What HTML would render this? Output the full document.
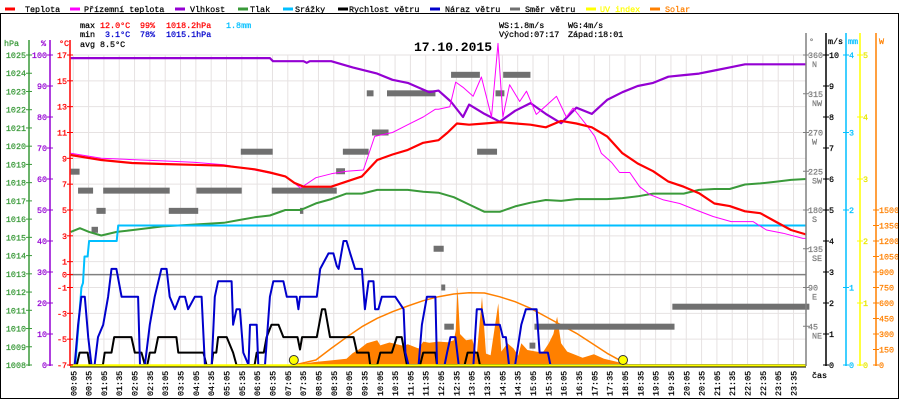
<!DOCTYPE html>
<html><head><meta charset="utf-8"><title>17.10.2015</title>
<style>
html,body{margin:0;padding:0;background:#fff;}
svg{display:block;}
text{font-family:"Liberation Mono",monospace;font-size:8.4px;stroke-width:0.25px;paint-order:stroke;}
</style></head>
<body>
<svg id="chart" width="900" height="400" viewBox="0 0 900 400" xmlns="http://www.w3.org/2000/svg">
<rect x="0" y="0" width="900" height="400" fill="#fff"/>
<g id="grid"></g>
<g id="marks"></g>
<g id="axes"></g>
<g id="legend"></g>
<g id="stats">
 <text x="80" y="28" stroke="#000">max</text>
 <text x="100" y="28" fill="#ff0000" stroke="#ff0000">12.0°C</text>
 <text x="140" y="28" fill="#ff0000" stroke="#ff0000">99%</text>
 <text x="166" y="28" fill="#ff0000" stroke="#ff0000">1018.2hPa</text>
 <text x="226" y="28" fill="#00bfff" stroke="#00bfff">1.8mm</text>
 <text x="80" y="37" stroke="#000">min</text>
 <text x="105" y="37" fill="#0000cc" stroke="#0000cc">3.1°C</text>
 <text x="140" y="37" fill="#0000cc" stroke="#0000cc">78%</text>
 <text x="166" y="37" fill="#0000cc" stroke="#0000cc">1015.1hPa</text>
 <text x="80" y="47" stroke="#000">avg</text>
 <text x="100" y="47" stroke="#000">8.5°C</text>
 <text x="499" y="28" stroke="#000">WS:1.8m/s</text>
 <text x="568" y="28" stroke="#000">WG:4m/s</text>
 <text x="499" y="37" stroke="#000">Východ:07:17</text>
 <text x="568" y="37" stroke="#000">Západ:18:01</text>
 <text x="414" y="51" style="font-size:13px;font-weight:bold">17.10.2015</text>
</g>
<rect x="0.5" y="13.5" width="898" height="385" fill="none" stroke="#000" stroke-width="1"/>
</svg>
<script>
const timeLabels = ["00:05","00:35","01:05","01:35","02:05","02:35","03:05","03:35","04:05","04:35","05:05","05:35","06:05","06:35","07:05","07:35","08:05","08:35","09:05","09:35","10:05","10:35","11:05","11:35","12:05","12:35","13:05","13:35","14:05","14:35","15:05","15:35","16:05","16:35","17:05","17:35","18:05","18:35","19:05","19:35","20:05","20:35","21:05","21:35","22:05","22:35","23:05","23:35"];
const tempT = [0,1,2,3,4,5,6,6.5,7,7.3,7.6,8.5,9,9.5,10,10.5,11,11.5,12,12.3,12.6,13,13.5,14,15,15.5,16,16.5,17,17.5,18,18.5,19,19.5,20,20.5,21,21.5,22,22.5,23,23.5,24];
const tempV = [9.26,8.87,8.64,8.56,8.5,8.43,8.15,7.9,7.6,7.1,6.8,6.8,7.2,7.6,8.87,9.3,9.65,10.2,10.4,11.0,11.7,11.6,11.7,11.8,11.6,11.4,11.9,11.7,11.4,10.7,9.4,8.6,8.0,7.2,6.8,6.3,5.5,5.3,4.9,4.75,4.1,3.45,3.1];
const feelT = [0,1,2,3,4,5,6,7,7.5,8,8.5,9,9.55,9.92,10.5,11,11.5,11.9,12.0,12.37,12.56,12.8,13.13,13.4,13.73,13.94,14.1,14.32,14.65,14.87,15.19,15.47,15.85,16.17,16.39,16.82,17.1,17.31,17.64,17.91,18.24,18.56,18.89,19.32,19.87,20.4,20.96,21.55,22.26,22.7,23.24,23.89,24];
const feelV = [9.4,9.0,8.9,8.8,8.7,8.5,8.1,7.6,6.7,7.5,7.8,8.0,8.1,10.7,11.0,11.6,12.2,12.8,12.8,13.0,14.9,14.5,13.8,15.3,12.2,17.9,12.2,14.7,13.4,14.2,12.4,13.0,13.8,12.2,12.9,11.6,10.7,9.4,8.7,7.9,7.9,6.8,6.2,5.8,5.5,5.0,4.5,4.1,4.1,3.45,3.2,2.8,2.8];
const humT = [0,6.5,6.6,7.6,7.7,7.8,8.5,9.2,10,10.5,11,11.7,12,12.4,12.8,13,13.5,14,14.5,15,15.5,16,16.5,17,17.5,18,18.5,19,19.5,20,20.5,21,21.5,22,23,24];
const humV = [99,99,98,98,97.5,98,98,96,94,92,91,88,88.5,85,80,84,81,78.5,82,84.5,81,78,83,81,85.5,88,90,91,93,93.5,94,95,96,97,97,97];
const presT = [0,0.3,0.6,1,1.5,2,3,4,5,5.5,6,6.5,7,7.5,8,8.5,9,9.5,10,10.5,11,11.5,12,12.5,13,13.5,14,14.5,15,15.5,16,16.5,17,17.5,18,18.5,19,19.5,20,20.5,21,21.5,22,22.5,23,23.5,24];
const presV = [1015.3,1015.5,1015.3,1015.1,1015.3,1015.4,1015.6,1015.7,1015.8,1015.95,1016.1,1016.2,1016.5,1016.5,1016.86,1017.1,1017.4,1017.4,1017.6,1017.6,1017.6,1017.5,1017.45,1017.2,1016.8,1016.4,1016.4,1016.7,1016.9,1017.05,1017.0,1017.1,1017.1,1017.1,1017.15,1017.25,1017.4,1017.4,1017.4,1017.6,1017.65,1017.65,1017.9,1017.96,1018.05,1018.15,1018.2];
const rainT = [0.15,0.25,0.35,0.4,0.45,0.55,0.6,0.7,1.5,1.55,24];
const rainV = [0,0.5,1.0,1.06,1.4,1.4,1.6,1.6,1.6,1.8,1.8];
const windT = [0,0.2,0.29,0.55,0.62,1.05,1.11,1.33,1.42,1.98,2.09,2.31,2.42,2.5,2.58,2.75,2.85,3.45,3.51,4.33,4.43,4.6,4.65,4.75,4.81,5.09,5.3,5.41,6.0,6.07,6.3,6.39,6.55,6.78,6.94,7.05,7.4,7.48,7.55,8.03,8.2,8.3,8.46,9.23,9.34,9.72,9.77,10.0,10.1,10.48,10.64,10.8,10.97,11.4,11.5,11.9,11.95,12.85,12.95,13.27,13.35,24];
const windV = [0,0,0.4,0.4,0,0,0.4,0.4,0.9,0.9,0.4,0.4,0,0,0.4,0.4,0.9,0.9,0.4,0.4,0,0,0.4,0.4,0.9,0.9,0.4,0,0,0.4,0.4,0.9,1.3,1.3,0.9,0.9,0.9,0.5,0.9,0.9,1.8,1.8,0.9,0.9,0.4,0.4,0,0,0.4,0.4,0.9,0.9,0,0,0.4,0.4,0,0,0.4,0.4,0,0];
const gustT = [0,0.13,0.24,0.35,0.46,0.57,0.68,0.78,0.89,1.06,1.22,1.33,1.49,1.66,2.2,2.26,2.42,2.58,2.74,2.96,3.13,3.23,3.4,3.56,3.73,3.83,4.05,4.27,4.38,4.6,4.7,4.81,5.25,5.3,5.41,5.52,5.63,5.8,5.85,6.07,6.12,6.34,6.5,6.61,6.94,7.05,7.37,7.43,7.48,8.03,8.14,8.41,8.57,8.68,8.74,8.9,9.0,9.12,9.28,9.5,9.6,9.72,9.88,9.93,10.04,10.15,10.59,10.86,10.92,11.02,11.35,11.46,11.62,11.9,11.95,12.2,12.28,12.39,12.55,12.66,13.14,13.25,13.41,13.5,14.0,14.1,14.2,14.3,14.5,14.7,14.85,15.2,15.3,15.57,15.65,24];
const gustV = [0,0,1.3,2.2,2.2,0.9,0,0,0.9,1.3,2.2,3.1,3.1,2.2,2.2,0,0,1.3,2.2,3.1,3.1,2.2,1.8,2.2,2.2,1.8,2.2,2.2,0,0,2.2,2.7,2.7,1.3,1.8,1.8,0.4,0,1.3,1.3,0,0,2.2,2.7,2.7,2.2,2.2,1.8,2.2,2.2,3.1,3.6,3.6,3.2,3.1,4.0,4.0,3.6,3.1,3.1,1.8,2.7,2.7,1.8,1.8,2.2,2.2,1.8,0.4,0,0,1.3,2.2,2.2,0,0,0.4,0.9,0.9,0,0,1.8,1.8,1.3,1.3,0.9,0.9,0,0,1.3,1.8,1.8,0.4,0.4,0,0];
const dirStart = [0,0.24,0.68,0.84,1.06,3.2,4.1,5.55,6.56,7.48,8.66,8.88,9.66,9.83,10.32,11.84,12.09,12.19,12.41,13.26,13.86,14.11,14.97,15.13,19.63];
const dirEnd   = [0.29,0.73,0.89,1.14,3.23,4.16,5.58,6.59,8.68,7.59,8.95,9.72,9.88,10.37,11.9,12.17,12.22,12.5,13.35,13.91,14.15,15.0,15.16,19.7,24.1];
const dirDeg   = [224.5,202.5,157,179,202.5,179,202.5,247.7,202.5,179,225,247.7,315.5,270,315.5,135,90,44.5,337,247.7,315.5,337,22.5,44.5,67.7];
const solarT = [7.3,7.6,8,8.5,9,9.2,9.4,9.66,10,10.1,10.4,10.86,11.0,11.35,11.5,11.7,12.0,12.3,12.5,12.56,12.62,12.7,12.9,13.1,13.25,13.42,13.55,13.7,13.95,14.05,14.25,14.45,14.6,14.7,14.9,15.2,15.4,15.6,15.75,15.87,16.0,16.2,16.5,16.7,17.07,17.4,17.83,18.1];
const solarV = [0,15,30,45,60,115,150,210,240,190,218,185,200,160,226,215,226,220,240,330,758,300,240,250,100,661,110,95,597,130,210,160,90,210,145,130,120,210,300,468,210,130,95,70,104,60,30,0];
const clearT = [7.3,8,8.5,9,9.5,10,10.5,11,11.5,12,12.5,13,13.5,14,14.5,15,15.5,16,16.5,17,17.5,18,18.2];
const clearV = [0,48,161,268,371,452,516,571,622,661,687,700,697,660,613,549,468,387,307,210,113,32,0];
const sunEvents = [7.28,18.02];
const hpaTicks = [1008,1009,1010,1011,1012,1013,1014,1015,1016,1017,1018,1019,1020,1021,1022,1023,1024,1025];
const pctTicks = [0,10,20,30,40,50,60,70,80,90,100];
const degTicks = [-7,-5,-3,-1,0,1,3,5,7,9,11,13,15,17];
const dirTicks = [45,90,135,180,225,270,315,360];
const dirNames = ["NE","E","SE","S","SW","W","NW","N"];
const msTicks = [0,1,2,3,4,5,6,7,8,9,10];
const mmTicks = [0,1,2,3,4];
const uvTicks = [0,1,2,3,4,5];
const wTicks = [0,150,300,450,600,750,900,1050,1200,1350,1500];

const NS='http://www.w3.org/2000/svg';
const X = h => 70.7 + h*30.65;
const yT = c => 365 - (c+7)*12.917;
const yH = p => 365 - p*3.1;
const yP = v => 365 - (v-1008)*18.235;
const yD = d => 365 - d*310/360;
const yW = v => 365 - v*31;
const yR = v => 365 - v*77.5;
const yU = v => 365 - v*62;
const yS = v => 365 - v*0.10333;
function mk(tag, attrs, parent){const e=document.createElementNS(NS,tag);for(const k in attrs)e.setAttribute(k,attrs[k]);parent.appendChild(e);return e;}
const grid=document.getElementById('grid'), marks=document.getElementById('marks'), axes=document.getElementById('axes'), legend=document.getElementById('legend');

timeLabels.forEach((t,i)=>{
  const x=X(i*0.5+5/60);
  const g=mk('line',{x1:x,x2:x,y1:55,y2:365,stroke:'#e6e2e2','stroke-width':1},grid);
  
  
  const tx=mk('text',{x:0,y:0,stroke:'#000',transform:`translate(${x+3},396) rotate(-90)`},axes);
  tx.textContent=t;
  
  
});
degTicks.forEach(c=>{
  if(c===0) return;
  const y=yT(c);
  const g=mk('line',{x1:70,x2:806,y1:y,y2:y,stroke:'#e6e2e2','stroke-width':1},grid);
  
  
});
const zl=mk('line',{x1:70,x2:806,y1:yT(0),y2:yT(0),stroke:'#808080','stroke-width':1.5},grid);



function poly(T,V,yf,color,w,name){
  const pts=T.map((t,i)=>X(t).toFixed(1)+','+yf(V[i]).toFixed(1)).join(' ');
  const p=mk('polyline',{points:pts,fill:'none',stroke:color,'stroke-width':w,'stroke-linejoin':'round'},marks);
  
  
  return p;
}
{
  let pts=X(solarT[0]).toFixed(1)+','+yS(0);
  solarT.forEach((t,i)=>{pts+=' '+X(t).toFixed(1)+','+yS(solarV[i]).toFixed(1);});
  pts+=' '+X(solarT[solarT.length-1]).toFixed(1)+','+yS(0);
  const s=mk('polygon',{points:pts,fill:'#ff8000',stroke:'none'},marks);
  
  
}
poly(clearT,clearV,yS,'#ff8000',1.5,'solar-clear-sky-line');
dirDeg.forEach((d,i)=>{
  const r=mk('rect',{x:X(dirStart[i]),y:yD(d)-3,width:Math.max(2,X(dirEnd[i])-X(dirStart[i])),height:6,fill:'#707070'},marks);
  
  
});
poly(presT,presV,yP,'#3a9a3a',2,'pressure-line');
poly(rainT,rainV,yR,'#00bfff',2,'rain-line');
poly(humT,humV,yH,'#9400d3',2.2,'humidity-line');
poly(feelT,feelV,yT,'#ff00ff',1,'apparent-temp-line');
poly(tempT,tempV,yT,'#ff0000',2.2,'temperature-line');
poly(windT,windV,yW,'#000000',2,'wind-speed-line');
poly(gustT,gustV,yW,'#0000cc',2,'wind-gust-line');
const uv=mk('line',{x1:70,x2:806,y1:365.5,y2:365.5,stroke:'#ffff00','stroke-width':2.5},marks);


const bl=mk('line',{x1:70,x2:806,y1:367,y2:367,stroke:'#000','stroke-width':1},marks);


sunEvents.forEach(h=>{
  const c=mk('circle',{cx:X(h),cy:360,r:4.5,fill:'#ffff00',stroke:'#333','stroke-width':1},marks);
  
  
});

function vaxis(x,color,top,name){
  const l=mk('line',{x1:x,x2:x,y1:top,y2:366,stroke:color,'stroke-width':1.5},axes);
  
  
}
function lab(x,y,txt,color,anchor,name){
  const t=mk('text',{x:x,y:y,fill:color,stroke:color,'text-anchor':anchor},axes);
  t.textContent=txt;
  
  
}
function tick(x,y,color){
  const l=mk('line',{x1:x-3,x2:x+3,y1:y,y2:y,stroke:color,'stroke-width':1},axes);
  
  
}
vaxis(29,'#3a9a3a',40,'pressure-axis');
vaxis(50,'#9400d3',40,'humidity-axis');
vaxis(70,'#ff0000',40,'temperature-axis');
lab(4,46,'hPa','#3a9a3a','start','pressure-axis-title');
lab(41,46,'%','#9400d3','start','humidity-axis-title');
lab(59,46,'°C','#ff0000','start','temperature-axis-title');
hpaTicks.forEach(v=>{const y=yP(v);tick(29,y,'#3a9a3a');lab(26,y+3,String(v),'#3a9a3a','end','pressure-tick-label');});
pctTicks.forEach(v=>{const y=yH(v);tick(50,y,'#9400d3');lab(47,y+3,String(v),'#9400d3','end','humidity-tick-label');});
degTicks.forEach(v=>{const y=yT(v);tick(70,y,'#ff0000');lab(67,y+3,String(v),'#ff0000','end','temperature-tick-label');});

vaxis(806,'#808080',33,'direction-axis');
vaxis(826,'#000',33,'wind-axis');
vaxis(846,'#00bfff',33,'rain-axis');
vaxis(860,'#ffff00',33,'uv-axis');
vaxis(876,'#ff8000',33,'solar-axis');
lab(809,44,'°','#808080','start','direction-axis-title');
lab(828,44,'m/s','#000','start','wind-axis-title');
lab(848,44,'mm','#00bfff','start','rain-axis-title');
lab(879,44,'W','#ff8000','start','solar-axis-title');
dirTicks.forEach((v,i)=>{const y=yD(v);tick(806,y,'#808080');lab(808,y+3,String(v),'#808080','start','direction-tick-label');lab(812,y+12,dirNames[i],'#808080','start','direction-name-label');});
msTicks.forEach(v=>{const y=yW(v);tick(826,y,'#000');lab(829,y+3,String(v),'#000','start','wind-tick-label');});
mmTicks.forEach(v=>{const y=yR(v);tick(846,y,'#00bfff');lab(849,y+3,String(v),'#00bfff','start','rain-tick-label');});
uvTicks.forEach(v=>{const y=yU(v);tick(860,y,'#ffff00');lab(863,y+3,String(v),'#e8e800','start','uv-tick-label');});
wTicks.forEach(v=>{const y=yS(v);tick(876,y,'#ff8000');lab(879,y+3,String(v),'#ff8000','start','solar-tick-label');});
lab(812,378,'čas','#000','start','x-axis-title');

const legNames=['Teplota','Přízemní teplota','Vlhkost','Tlak','Srážky','Rychlost větru','Náraz větru','Směr větru','UV index','Solar'];
const legColors=['#ff0000','#ff00ff','#9400d3','#3a9a3a','#00bfff','#000000','#0000cc','#707070','#ffff00','#ff8000'];
const legLineX=[5,70,175,238,283,338,430,510,586,650];
const legTextX=[25,84,190,250,295,349,445,525,600,665];
legNames.forEach((n,i)=>{
  const g=mk('g',{},legend);
  
  
  mk('rect',{x:legLineX[i],y:7.5,width:10,height:3,fill:legColors[i]},g);
  const c=(i===8?'#ffff00':(i===9?'#ff8000':'#000'));
  const t=mk('text',{x:legTextX[i],y:12,fill:c,stroke:c},g);
  t.textContent=n;
});
</script>
</body></html>
